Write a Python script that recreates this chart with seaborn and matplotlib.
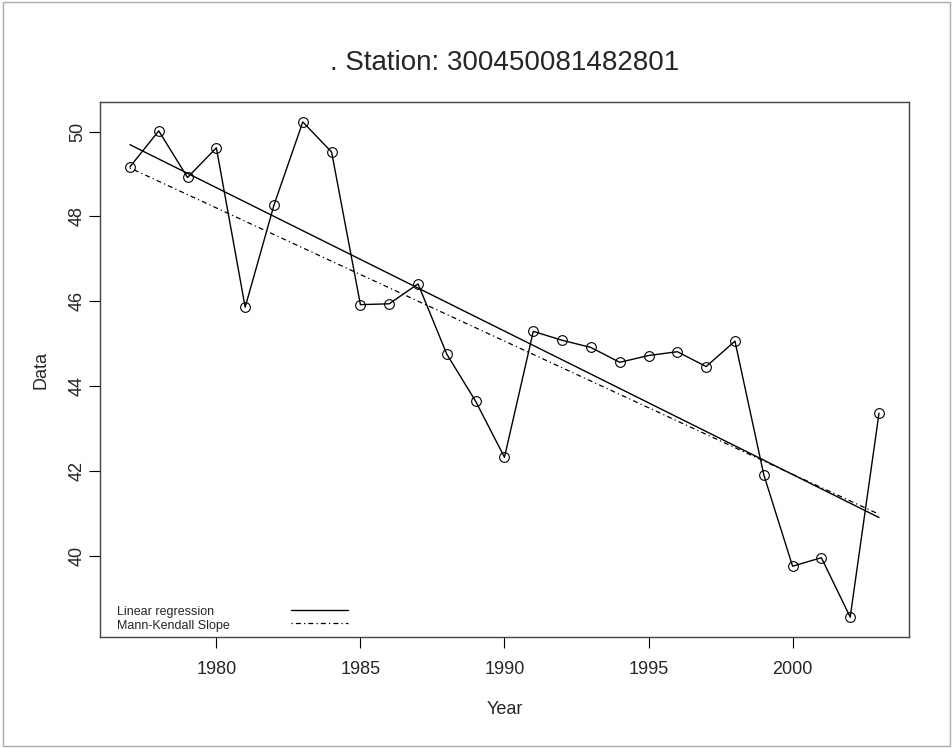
import numpy as np
import pandas as pd
import matplotlib
matplotlib.use("Agg")
import matplotlib.pyplot as plt
import seaborn as sns

# values
years = list(range(1977, 2004))
values = [49.17, 50.02, 48.92, 49.62, 45.86, 48.27, 50.23, 49.52, 45.92, 45.94,
          46.41, 44.75, 43.64, 42.32, 45.29, 45.08, 44.91, 44.56, 44.72, 44.81,
          44.46, 45.06, 41.91, 39.75, 39.95, 38.55, 43.36]
station = "300450081482801"
legend_labels = ["Linear regression", "Mann-Kendall Slope"]

df = pd.DataFrame({"Year": years, "Data": values})
x = df["Year"].to_numpy(dtype=float)
y = df["Data"].to_numpy()

# linear regression
lr_slope, lr_int = np.polyfit(x, y, 1)

# Sen's slope (Mann-Kendall)
slopes = [(y[j] - y[i]) / (x[j] - x[i]) for i in range(len(x)) for j in range(i + 1, len(x))]
sen_slope = np.median(slopes)
sen_int = np.median(y) - sen_slope * np.median(x)

sns.set_style("white")
plt.rcParams["font.family"] = ["Liberation Sans", "DejaVu Sans"]

fig = plt.figure(figsize=(9.53, 7.48), dpi=100)
ax = fig.add_axes([0.1049, 0.1484, 0.8489, 0.7152])

sns.lineplot(data=df, x="Year", y="Data", ax=ax, color="black", lw=1,
             marker="o", markersize=7, markerfacecolor="none",
             markeredgecolor="black", markeredgewidth=0.8)

mk_dash = (1, 2.5, 4, 2.5)
ax.plot(x, lr_int + lr_slope * x, color="black", lw=1)
ax.plot(x, sen_int + sen_slope * x, color="black", lw=0.9, dashes=mk_dash)

ax.set_xlim(1975.96, 2004.04)
ax.set_ylim(38.08, 50.70)
ax.set_xticks([1980, 1985, 1990, 1995, 2000])
ax.set_yticks([40, 42, 44, 46, 48, 50])
ax.tick_params(axis="both", direction="out", length=8, width=0.8,
               labelsize=13, color="black", bottom=True, left=True)
ax.tick_params(axis="x", pad=9)
ax.tick_params(axis="y", pad=2)
for lab in ax.get_yticklabels():
    lab.set_rotation(90)
    lab.set_va("center")
for s in ax.spines.values():
    s.set_color("#444444")
    s.set_linewidth(1)

ax.set_xlabel("Year", fontsize=13, labelpad=17)
ax.set_ylabel("Data", fontsize=13, labelpad=14)
ax.set_title(". Station: " + station, fontsize=20, pad=23)

# legend drawn R-style: left-aligned text, line samples in a column after it
handles = [plt.Line2D([], [], color="black", lw=1),
           plt.Line2D([], [], color="black", lw=0.9, dashes=mk_dash)]
ax.legend(handles, ["", ""], loc="lower left", frameon=False,
          fontsize=9, handlelength=4.6, handletextpad=0,
          labelspacing=0.1, borderpad=0, borderaxespad=0,
          bbox_to_anchor=(0.236, 0.012))
for i, lab in enumerate(legend_labels):
    ax.text(0.021, 0.047 - 0.0262 * i, lab, transform=ax.transAxes,
            fontsize=9, ha="left", va="center")

fig.patches.append(plt.Rectangle((0.003, 0.003), 0.994, 0.994, transform=fig.transFigure,
                                 fill=False, edgecolor="#aaaaaa", lw=1))
fig.savefig("out.png", dpi=100)
